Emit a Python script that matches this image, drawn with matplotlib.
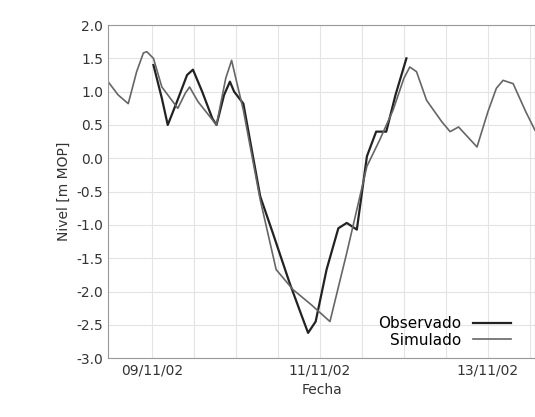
import matplotlib
matplotlib.use("Agg")
import matplotlib.pyplot as plt
import numpy as np

obs_d = [0.02, 0.12, 0.19, 0.3, 0.42, 0.49, 0.6, 0.72, 0.77, 0.86, 0.93, 0.98, 1.09, 1.29, 1.44, 1.64, 1.78, 1.86, 1.95, 2.08, 2.22, 2.32, 2.44, 2.56, 2.67, 2.79, 2.9, 3.03]
obs_v = [1.4, 0.9, 0.5, 0.85, 1.25, 1.33, 1.0, 0.6, 0.5, 0.95, 1.15, 1.0, 0.82, -0.57, -1.12, -1.87, -2.35, -2.62, -2.45, -1.67, -1.05, -0.97, -1.07, 0.03, 0.4, 0.4, 0.95, 1.5]
sim_d = [-0.52, -0.4, -0.28, -0.18, -0.1, -0.06, 0.02, 0.12, 0.31, 0.4, 0.45, 0.55, 0.77, 0.88, 0.95, 1.0, 1.09, 1.29, 1.48, 1.68, 1.9, 2.12, 2.32, 2.56, 2.71, 2.87, 3.0, 3.07, 3.15, 3.27, 3.45, 3.55, 3.65, 3.87, 4.0, 4.1, 4.18, 4.3, 4.45, 4.56]
sim_v = [1.15, 0.95, 0.82, 1.3, 1.58, 1.6, 1.5, 1.07, 0.75, 0.98, 1.07, 0.85, 0.5, 1.2, 1.47, 1.2, 0.72, -0.62, -1.67, -1.97, -2.2, -2.45, -1.42, -0.12, 0.27, 0.72, 1.2, 1.37, 1.3, 0.87, 0.55, 0.4, 0.47, 0.17, 0.7, 1.05, 1.17, 1.12, 0.7, 0.42]
tick_pos = [0, 2, 4]
tick_lab = ["09/11/02", "11/11/02", "13/11/02"]

fig = plt.figure(figsize=(5.35, 4.17), dpi=100)
ax = fig.add_axes([0.202, 0.141, 0.798, 0.799])
ax.plot(obs_d, obs_v, color="#222222", lw=1.6, label="Observado")
ax.plot(sim_d, sim_v, color="#666666", lw=1.2, label="Simulado")
ax.set_xlim(-0.52, 4.56)
ax.set_ylim(-3, 2)
ax.set_yticks(np.arange(-3, 2.01, 0.5))
ax.set_yticklabels([f"{v:.1f}" for v in np.arange(-3, 2.01, 0.5)])
ax.set_xticks(np.arange(0, 4.6, 0.5), minor=True)
ax.set_xticks(tick_pos)
ax.set_xticklabels(tick_lab)
ax.grid(True, which="both", color="#e4e4e4", lw=0.8)
ax.tick_params(which="both", length=0, labelsize=10, colors="#333333")
for s in ax.spines.values():
    s.set_color("#999999")
ax.set_xlabel("Fecha", fontsize=10, color="#333333")
ax.set_ylabel("Nivel [m MOP]", fontsize=10, color="#333333")
ax.legend(loc="lower right", markerfirst=False, frameon=False, fontsize=11,
          handlelength=2.5, borderpad=0.2, labelspacing=0.1, bbox_to_anchor=(0.97, 0.0))
fig.savefig("out.png", dpi=100)
